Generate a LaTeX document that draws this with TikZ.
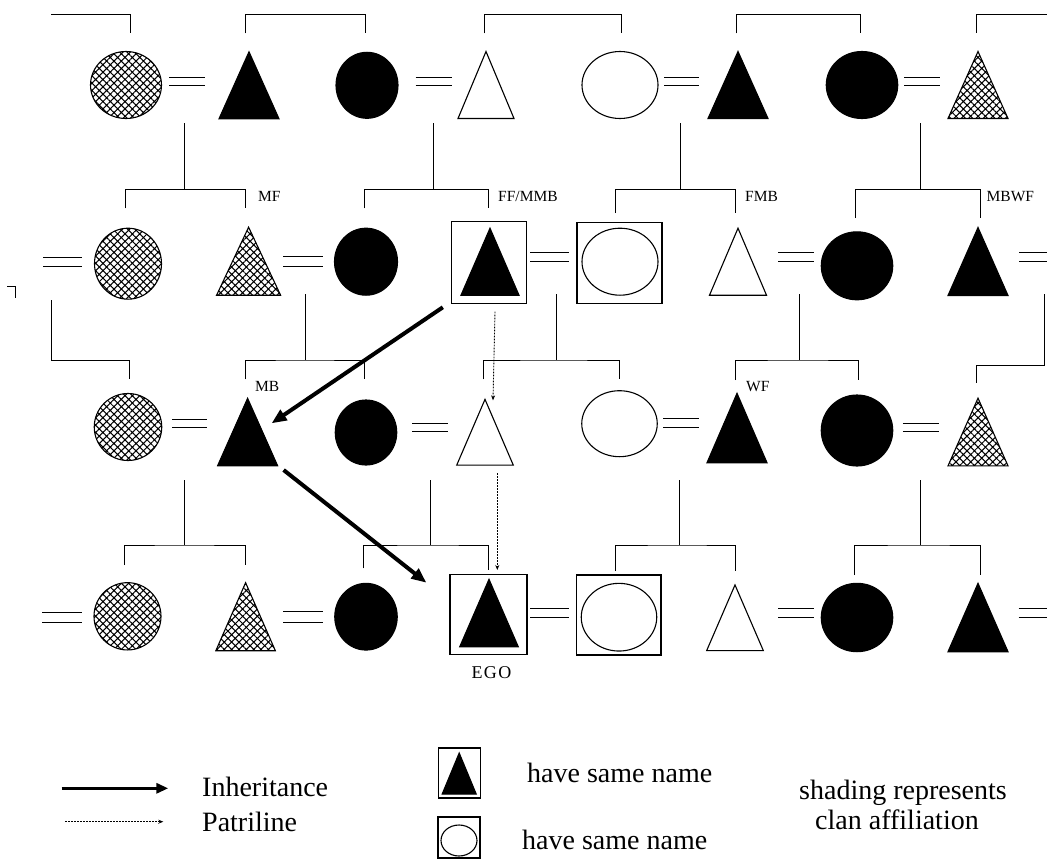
\documentclass[tikz,border=0pt]{standalone}
\usepackage{fontspec}
\setmainfont{Liberation Serif}
\newfontfamily\egofont[LetterSpace=8]{Liberation Serif}
\usetikzlibrary{shapes.geometric,arrows.meta,patterns.meta,calc}
\begin{document}
\begin{tikzpicture}[
  x=1pt, y=-1pt,
  ln/.style={line width=1pt},
  person/.style={ellipse, inner sep=0pt, outer sep=0pt, line width=1.1pt},
  blk/.style={draw=black, fill=black, line width=1.1pt},
  wht/.style={draw=black, fill=white, line width=1.1pt},
  hat/.style={draw=black, line width=1.1pt, pattern={Hatch[angle=45,distance=5.2pt,line width=1.05pt]}},
  slot/.style={rectangle, inner sep=0pt, outer sep=0pt},
  namebox/.style={draw=black, rectangle, inner sep=0pt, outer sep=0pt, line width=1.2pt},
  eqs/.style={rectangle, inner sep=0pt, outer sep=0pt},
  kin/.style={font=\fontsize{15.5}{18}\selectfont, inner sep=0pt, anchor=west},
  leg/.style={font=\fontsize{28}{32}\selectfont, inner sep=0pt, anchor=base west},
  inh/.style={line width=4pt, -{Triangle[length=15pt,width=12pt]}},
  leginh/.style={line width=3.5pt, -{Triangle[length=12pt,width=10pt]}},
  pat/.style={line width=0.9pt, dash pattern=on 1.6pt off 1.4pt, -{Stealth[length=5pt,width=4pt]}},
]
\useasboundingbox (0,0) rectangle (1047,859);
\fill[white] (0,0) rectangle (1047,859);

% ---------- generation 1 ----------
\node[person, hat, minimum width=71pt, minimum height=67pt] (r1c1) at (126,85) {};
\node[slot, minimum width=60pt, minimum height=67pt] (r1c2) at (249,85.3) {};
\node[person, blk, minimum width=62pt, minimum height=66pt] (r1c3) at (367,85.3) {};
\node[slot, minimum width=56pt, minimum height=67pt] (r1c4) at (486,85) {};
\node[person, wht, minimum width=76pt, minimum height=67pt] (r1c5) at (620,85) {};
\node[slot, minimum width=60pt, minimum height=67pt] (r1c6) at (738,85) {};
\node[person, blk, minimum width=71.5pt, minimum height=67pt] (r1c7) at (862,85) {};
\node[slot, minimum width=60pt, minimum height=67pt] (r1c8) at (978,85) {};

% ---------- generation 2 ----------
\node[person, hat, minimum width=67pt, minimum height=71pt] (r2c1) at (128,263.7) {};
\node[slot, minimum width=64pt, minimum height=68pt] (r2c2) at (248.6,261.2) {};
\node[person, blk, minimum width=63pt, minimum height=67pt] (r2c3) at (366,261.7) {};
\node[namebox, minimum width=75pt, minimum height=81.6pt] (b24) at (489.3,262.5) {};
\node[slot, minimum width=58pt, minimum height=67pt] (r2c4) at (490,261.7) {};
\node[namebox, minimum width=85pt, minimum height=81pt] (b25) at (619.5,262.8) {};
\node[person, wht, minimum width=76pt, minimum height=67pt] (r2c5) at (620,261.7) {};
\node[slot, minimum width=57pt, minimum height=67pt] (r2c6) at (738,261.7) {};
\node[person, blk, minimum width=71.5pt, minimum height=68pt] (r2c7) at (857,265.8) {};
\node[slot, minimum width=60pt, minimum height=68pt] (r2c8) at (978,261.5) {};

% ---------- generation 3 ----------
\node[person, hat, minimum width=67.5pt, minimum height=67pt] (r3c1) at (128,427) {};
\node[slot, minimum width=60pt, minimum height=67.4pt] (r3c2) at (247.6,432) {};
\node[person, blk, minimum width=61.5pt, minimum height=65pt] (r3c3) at (366,432.5) {};
\node[slot, minimum width=56.5pt, minimum height=65.7pt] (r3c4) at (485,432.2) {};
\node[person, wht, minimum width=75.5pt, minimum height=66pt] (r3c5) at (619.5,423.7) {};
\node[slot, minimum width=60pt, minimum height=69.4pt] (r3c6) at (737,428) {};
\node[person, blk, minimum width=71.5pt, minimum height=71pt] (r3c7) at (857,430.5) {};
\node[slot, minimum width=60pt, minimum height=67.7pt] (r3c8) at (978,432) {};

% ---------- generation 4 ----------
\node[person, hat, minimum width=67pt, minimum height=67.3pt] (r4c1) at (127.5,616.3) {};
\node[slot, minimum width=59.5pt, minimum height=68pt] (r4c2) at (245.6,616.7) {};
\node[person, blk, minimum width=62.5pt, minimum height=66.7pt] (r4c3) at (366,616.7) {};
\node[namebox, minimum width=77pt, minimum height=80pt] (b44) at (488.5,614.3) {};
\node[slot, minimum width=58.5pt, minimum height=67.4pt] (r4c4) at (489,613) {};
\node[namebox, minimum width=84.5pt, minimum height=80pt] (b45) at (618.8,615) {};
\node[person, wht, minimum width=75.5pt, minimum height=67.7pt] (r4c5) at (619,617.2) {};
\node[slot, minimum width=56.7pt, minimum height=65.7pt] (r4c6) at (735,617.8) {};
\node[person, blk, minimum width=71.5pt, minimum height=68.4pt] (r4c7) at (857,617.5) {};
\node[slot, minimum width=60pt, minimum height=68.4pt] (r4c8) at (978,617.5) {};

% ---------- legend symbols ----------
\node[namebox, minimum width=42pt, minimum height=50pt] (lb1) at (459.2,773) {};
\node[slot, minimum width=34pt, minimum height=41pt] (lgtri) at (459.2,773.5) {};
\node[namebox, minimum width=42pt, minimum height=41pt] (lb2) at (459,837.5) {};
\node[person, wht, minimum width=36pt, minimum height=31pt] (lgell) at (459,840.5) {};

% triangles (males)
\foreach \n in {r1c2,r1c6,r2c4,r2c8,r3c2,r3c6,r4c4,r4c8,lgtri}
  \path[blk] (\n.south west) -- (\n.north) -- (\n.south east) -- cycle;
\foreach \n in {r1c4,r2c6,r3c4,r4c6}
  \path[wht] (\n.south west) -- (\n.north) -- (\n.south east) -- cycle;
\foreach \n in {r1c8,r2c2,r3c8,r4c2}
  \path[hat] (\n.south west) -- (\n.north) -- (\n.south east) -- cycle;

% ---------- marriage signs ----------
\node[eqs, minimum width=36pt, minimum height=8pt] (e11) at (187,81.3) {};
\node[eqs, minimum width=36pt, minimum height=8pt] (e12) at (433.6,82) {};
\node[eqs, minimum width=35pt, minimum height=8pt] (e13) at (681.5,82) {};
\node[eqs, minimum width=36pt, minimum height=8pt] (e14) at (922,82) {};
\node[eqs, minimum width=39pt, minimum height=9pt] (e20) at (62.5,262.2) {};
\node[eqs, minimum width=39.6pt, minimum height=9.3pt] (e21) at (302.8,261.4) {};
\node[eqs, minimum width=39pt, minimum height=9pt] (e22) at (549.5,257.2) {};
\node[eqs, minimum width=36pt, minimum height=9pt] (e23) at (796,257.2) {};
\node[eqs, minimum width=28pt, minimum height=9pt] (e24) at (1033,257.2) {};
\node[eqs, minimum width=35pt, minimum height=8pt] (e31) at (189.5,423.3) {};
\node[eqs, minimum width=36pt, minimum height=8.4pt] (e32) at (430,427.5) {};
\node[eqs, minimum width=36pt, minimum height=9pt] (e33) at (681,422.8) {};
\node[eqs, minimum width=36.5pt, minimum height=8.4pt] (e34) at (921.2,427.5) {};
\node[eqs, minimum width=40pt, minimum height=10pt] (e40) at (62,617.3) {};
\node[eqs, minimum width=39.6pt, minimum height=10.6pt] (e41) at (302.8,617) {};
\node[eqs, minimum width=39pt, minimum height=9pt] (e42) at (549.5,612.8) {};
\node[eqs, minimum width=36pt, minimum height=9pt] (e43) at (796,612.8) {};
\node[eqs, minimum width=28.5pt, minimum height=9pt] (e44) at (1032.8,612.8) {};
\foreach \e in {e11,e12,e13,e14,e20,e21,e22,e23,e24,e31,e32,e33,e34,e40,e41,e42,e43,e44}
  \draw[ln] (\e.north west) -- (\e.north east) (\e.south west) -- (\e.south east);

% ---------- sibling brackets ----------
% above generation 1
\coordinate (t1a) at (51.4,14.7);  \coordinate (t1b) at (130,33.3);
\draw[ln] (t1a) -| (t1b);
\coordinate (t2) at (305,14.7);  \coordinate (t2l) at (245.6,33.3); \coordinate (t2r) at (365.2,33.3);
\draw[ln] (t2l) |- (t2) -| (t2r);
\coordinate (t3) at (552,14.7);  \coordinate (t3l) at (484,33.3);   \coordinate (t3r) at (621,33.3);
\draw[ln] (t3l) |- (t3) -| (t3r);
\coordinate (t4) at (798,14.7);  \coordinate (t4l) at (736,33.3);   \coordinate (t4r) at (860.5,33.3);
\draw[ln] (t4l) |- (t4) -| (t4r);
\coordinate (t5a) at (1047,14.7); \coordinate (t5b) at (976.5,33.3);
\draw[ln] (t5a) -| (t5b);

% generation 1 -> 2
\coordinate (d21) at (184.8,123.3); \coordinate (j21) at (184.8,189.3);
\coordinate (l21) at (125,208.3);   \coordinate (r21) at (245,208.3);
\draw[ln] (d21) -- (j21) (l21) |- (j21) -| (r21);
\coordinate (d22) at (433.4,123.3); \coordinate (j22) at (433.4,189.3);
\coordinate (l22) at (364.2,208.3); \coordinate (r22) at (488.2,208.3);
\draw[ln] (d22) -- (j22) (l22) |- (j22) -| (r22);
\coordinate (d23) at (680,123.3);   \coordinate (j23) at (680,189.3);
\coordinate (l23) at (615.8,213);   \coordinate (r23) at (735.8,213);
\draw[ln] (d23) -- (j23) (l23) |- (j23) -| (r23);
\coordinate (d24) at (920,123.3);   \coordinate (j24) at (920,189.3);
\coordinate (l24) at (855.5,218);   \coordinate (r24) at (980.5,218);
\draw[ln] (d24) -- (j24) (l24) |- (j24) -| (r24);

% generation 2 -> 3
\coordinate (d31) at (51.4,300);  \coordinate (j31) at (51.4,360);  \coordinate (r31) at (129.4,379.3);
\draw[ln] (d31) -- (j31) -| (r31);
\coordinate (d32) at (305,294);   \coordinate (j32) at (305,360);
\coordinate (l32) at (245,379.3); \coordinate (r32) at (364.2,379.3);
\draw[ln] (d32) -- (j32) (l32) |- (j32) -| (r32);
\coordinate (d33) at (556,294);   \coordinate (j33) at (556,360);
\coordinate (l33) at (483.8,379.3); \coordinate (r33) at (619.2,379.3);
\draw[ln] (d33) -- (j33) (l33) |- (j33) -| (r33);
\coordinate (d34) at (799,294);   \coordinate (j34) at (799,360);
\coordinate (l34) at (735,380);   \coordinate (r34) at (858.8,380);
\draw[ln] (d34) -- (j34) (l34) |- (j34) -| (r34);
\coordinate (d35) at (1044,294);  \coordinate (j35) at (1044,365); \coordinate (l35) at (976,383.3);
\draw[ln] (d35) -- (j35) -| (l35);

% generation 3 -> 4
\coordinate (d41) at (184.1,480); \coordinate (j41) at (184.1,545);
\coordinate (l41) at (124,565);   \coordinate (r41) at (245,565);
\draw[ln] (d41) -- (j41) (l41) |- (j41) -| (r41);
\coordinate (d42) at (430,480);   \coordinate (j42) at (430,545);
\coordinate (l42) at (363.9,568.3); \coordinate (r42) at (488.2,570);
\draw[ln] (d42) -- (j42) (l42) |- (j42) -| (r42);
\coordinate (d43) at (679,480);   \coordinate (j43) at (679,545);
\coordinate (l43) at (615,571);   \coordinate (r43) at (735,571);
\draw[ln] (d43) -- (j43) (l43) |- (j43) -| (r43);
\coordinate (d44) at (920,480);   \coordinate (j44) at (920,545);
\coordinate (l44) at (854.5,575); \coordinate (r44) at (980,575);
\draw[ln] (d44) -- (j44) (l44) |- (j44) -| (r44);

% stub at the left margin
\draw[ln] (7.4,286.7) -- (15,286.7) -- (15,298.3);

% ---------- kin labels ----------
\node[kin] (lMF)   at (258,196.7)   {MF};
\node[kin] (lFF)   at (498,196.7)   {FF/MMB};
\node[kin] (lFMB)  at (745,196.7)   {FMB};
\node[kin] (lMBWF) at (986.5,196.7) {MBWF};
\node[kin] (lMB)   at (255,386.7)   {MB};
\node[kin] (lWF)   at (746,386.7)   {WF};
\node[font=\egofont\fontsize{18}{20}\selectfont, inner sep=0pt] (lEGO) at (491.5,672.7) {EGO};

% ---------- inheritance and patriline ----------
\draw[inh] ($(b24.south west)+(-9,4)$) -- ($(r3c2.east)+(-6,-8.7)$);
\draw[inh] ($(r3c2.south east)+(6,4.3)$) -- ($(b44.north west)+(-23.6,8.4)$);
\draw[pat] ($(b24.south)+(5.7,8.4)$) -- ($(r3c4.north)+(8,1)$);
\draw[pat] ($(r3c4.south)+(12.3,8.3)$) -- ($(b44.north)+(8.8,-4.3)$);

% ---------- legend ----------
\coordinate (li1) at (61.7,788.3); \coordinate (li2) at (168.3,788.3);
\draw[leginh] (li1) -- (li2);
\node[leg] (tinh) at (202,796) {Inheritance};
\coordinate (lp1) at (65,821.7); \coordinate (lp2) at (163.3,821.7);
\draw[pat] (lp1) -- (lp2);
\node[leg] (tpat) at (202,831.7) {Patriline};
\node[leg] (tsn1) at (527,782) {have same name};
\node[leg] (tsn2) at (522,849) {have same name};
\node[leg] (tsh1) at (799,799) {shading represents};
\node[leg] (tsh2) at (815,829) {clan affiliation};
\end{tikzpicture}
\end{document}
